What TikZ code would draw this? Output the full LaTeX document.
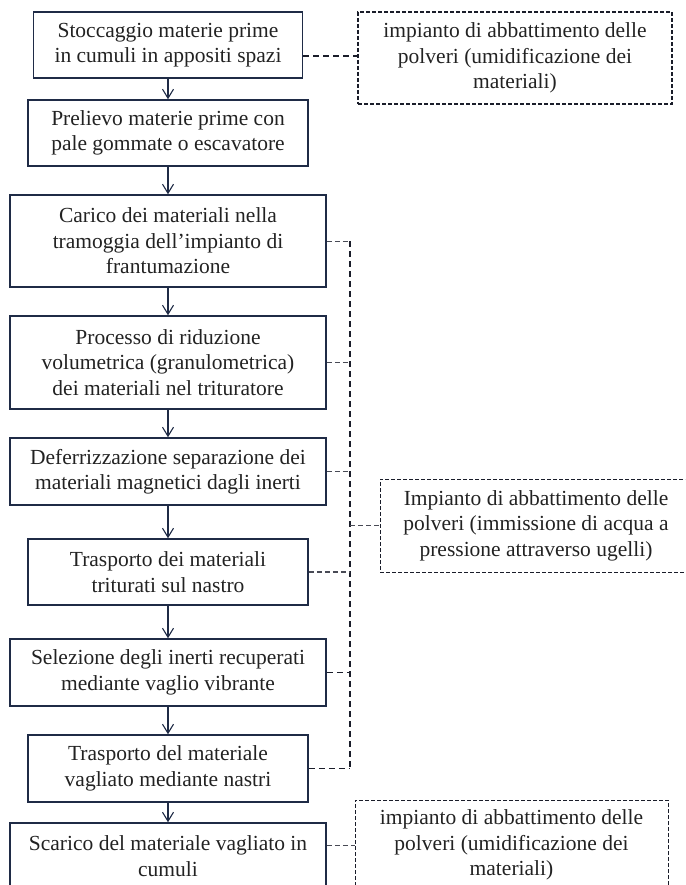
\documentclass[tikz,border=0pt]{standalone}
\usepackage{fontspec}
\setmainfont{Liberation Serif}
\usetikzlibrary{arrows.meta}
\definecolor{navy}{HTML}{1F2B46}
\definecolor{dashc}{HTML}{1A1D2A}
\definecolor{txt}{HTML}{222222}
\tikzset{
  stepbox/.style={draw=navy, line width=1.5pt, align=center, inner sep=0pt, text=txt,
    font=\fontsize{21.5}{25.5}\selectfont},
  notebox/.style={stepbox, draw=dashc},
  thickdash/.style={draw=dashc, line width=1.9pt, dash pattern=on 6pt off 4pt},
  thindash/.style={draw=dashc!80, line width=1pt, dash pattern=on 5pt off 3pt},
  flow/.style={draw=navy, line width=1.1pt, -{Straight Barb[length=9pt,width=11pt,line width=1.1pt]}},
}
\begin{document}
\begin{tikzpicture}[x=1pt,y=-1pt]
\useasboundingbox (0,0) rectangle (685,885);
\clip (0,0) rectangle (685,885);
\node[stepbox, minimum width=269pt, minimum height=66pt] (b1) at (168,45) {Stoccaggio materie prime\\in cumuli in appositi spazi};
\node[stepbox, minimum width=280pt, minimum height=66pt] (b2) at (168,133) {Prelievo materie prime con\\pale gommate o escavatore};
\node[stepbox, minimum width=316pt, minimum height=92pt] (b3) at (168,241) {Carico dei materiali nella\\tramoggia dell’impianto di\\frantumazione};
\node[stepbox, minimum width=316pt, minimum height=93pt] (b4) at (168,362.5) {Processo di riduzione\\volumetrica (granulometrica)\\dei materiali nel trituratore};
\node[stepbox, minimum width=316pt, minimum height=67pt] (b5) at (168,471.5) {Deferrizzazione separazione dei\\materiali magnetici dagli inerti};
\node[stepbox, minimum width=280pt, minimum height=66pt] (b6) at (168,572) {Trasporto dei materiali\\triturati sul nastro};
\node[stepbox, minimum width=316pt, minimum height=67pt] (b7) at (168,672.5) {Selezione degli inerti recuperati\\mediante vaglio vibrante};
\node[stepbox, minimum width=280pt, minimum height=67pt] (b8) at (168,768.5) {Trasporto del materiale\\vagliato mediante nastri};
\node[stepbox, minimum width=316pt, minimum height=66pt] (b9) at (168,856) {Scarico del materiale vagliato in\\cumuli};

\node[notebox, line width=1.6pt, dash pattern=on 4pt off 2pt, minimum width=314pt, minimum height=92pt] (nA) at (515,58) {impianto di abbattimento delle\\polveri (umidificazione dei\\materiali)};
\node[notebox, line width=0.9pt, dash pattern=on 4pt off 2pt, minimum width=312pt, minimum height=93pt] (nB) at (536,525.5) {Impianto di abbattimento delle\\polveri (immissione di acqua a\\pressione attraverso ugelli)};
\node[notebox, line width=0.9pt, dash pattern=on 4pt off 2pt, minimum width=313pt, minimum height=90pt] (nC) at (511.5,845) {impianto di abbattimento delle\\polveri (umidificazione dei\\materiali)};

\foreach \a/\b in {b1/b2,b2/b3,b3/b4,b4/b5,b5/b6,b6/b7,b7/b8,b8/b9}
  \draw[flow] (\a.south) -- (\b.north);

\coordinate (k1) at (0,56);
\coordinate (sp) at (350,0);
\draw[thickdash] (b1.east |- k1) -- (nA.west |- k1);
\draw[thickdash] (b3.east -| sp) -- (b8.east -| sp);
\draw[thindash] (b3.east) -- (b3.east -| sp);
\draw[thindash] (b4.east) -- (b4.east -| sp);
\draw[thindash] (b5.east) -- (b5.east -| sp);
\draw[thindash, line width=1.3pt] (b6.east) -- (b6.east -| sp);
\draw[thickdash] (b7.east) -- (b7.east -| sp);
\draw[thickdash] (b8.east) -- (b8.east -| sp);
\draw[thindash] (nB.west -| sp) -- (nB.west);
\draw[thindash] (b9.east |- nC.west) -- (nC.west);
\end{tikzpicture}
\end{document}
